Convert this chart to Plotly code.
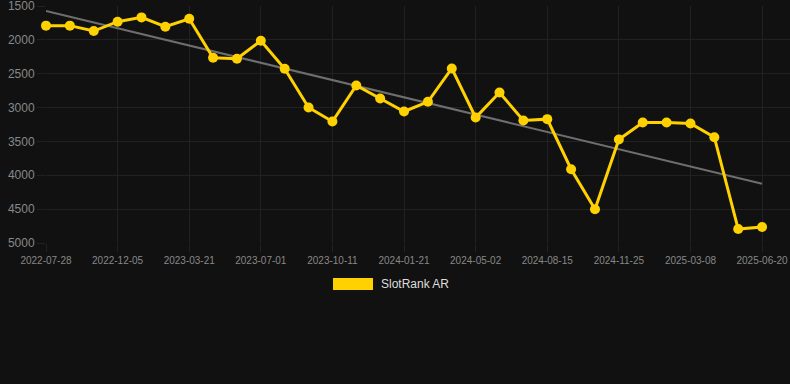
import numpy as np
import plotly.graph_objects as go

# Tick labels shown on the x axis (every third data point)
tick_labels = ["2022-07-28", "2022-12-05", "2023-03-21", "2023-07-01", "2023-10-11",
               "2024-01-21", "2024-05-02", "2024-08-15", "2024-11-25", "2025-03-08",
               "2025-06-20"]

# Rank values (31 points, evenly spaced)
ranks = [1790, 1790, 1870, 1732, 1668, 1806, 1688, 2264, 2279, 2013,
         2427, 2999, 3206, 2673, 2866, 3058, 2915, 2422, 3147, 2777,
         3191, 3171, 3911, 4502, 3472, 3221, 3221, 3235, 3438, 4794,
         4764]

y_ticks = [1500, 2000, 2500, 3000, 3500, 4000, 4500, 5000]

series_name = "SlotRank AR"

idx = np.arange(len(ranks))
slope, intercept = np.polyfit(idx, ranks, 1)
trend = slope * idx + intercept

YELLOW = "#FFD100"
BG = "#111111"
GRID = "#212121"
TICKC = "#888888"

fig = go.Figure()
fig.add_trace(go.Scatter(
    x=[idx[0], idx[-1]], y=[trend[0], trend[-1]], mode="lines",
    line=dict(color="#6e6e6e", width=2), showlegend=False, hoverinfo="skip",
    cliponaxis=False))
fig.add_trace(go.Scatter(
    x=idx, y=ranks, mode="lines+markers", name=series_name,
    line=dict(color=YELLOW, width=3),
    marker=dict(color=YELLOW, size=10),
    showlegend=False, cliponaxis=False))

tickvals = list(range(0, len(ranks), 3))

fig.update_layout(
    width=790, height=384,
    margin=dict(l=46, r=0, t=6, b=141),
    paper_bgcolor=BG, plot_bgcolor=BG,
    font=dict(family="Liberation Sans, Arial, sans-serif", color=TICKC),
    xaxis=dict(
        range=[0, 31.17], tickvals=tickvals, ticktext=tick_labels,
        showgrid=True, gridcolor=GRID, gridwidth=1, zeroline=False,
        ticks="outside", ticklen=8, tickcolor=GRID, tickfont=dict(size=10, color=TICKC),
        ticklabeloverflow="allow",
        showline=False, fixedrange=True),
    yaxis=dict(
        range=[5000, 1500], tickvals=y_ticks,
        showgrid=True, gridcolor=GRID, gridwidth=1, zeroline=False,
        ticks="outside", ticklen=8, tickcolor=GRID, tickfont=dict(size=12, color=TICKC),
        ticklabeloverflow="allow",
        showline=False, fixedrange=True),
    shapes=[dict(type="rect", xref="paper", yref="paper",
                 x0=(333 - 46) / 744, x1=(373 - 46) / 744,
                 y0=(243 - 290) / 237, y1=(243 - 278) / 237,
                 fillcolor=YELLOW, line=dict(width=0))],
    annotations=[dict(text=series_name, xref="paper", yref="paper",
                      x=(379 - 46) / 744, y=(243 - 284) / 237,
                      xanchor="left", yanchor="middle", showarrow=False,
                      font=dict(size=12, color="#dddddd"))],
)

fig.write_html("out.html", config={"displayModeBar": False},
               post_script="document.body.style.margin='0';document.body.style.background='#111111';")
